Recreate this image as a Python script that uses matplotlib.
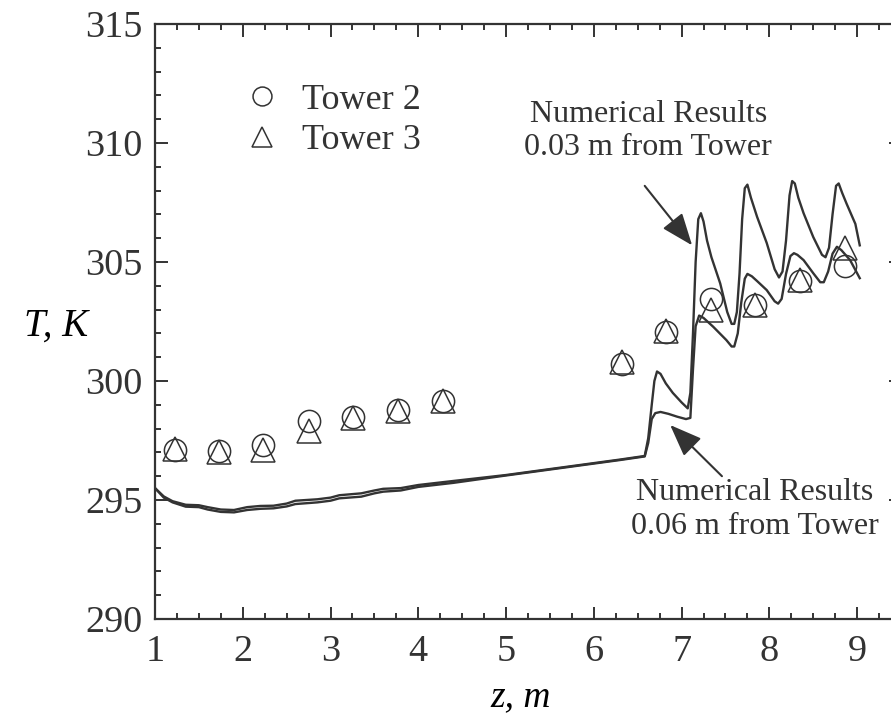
import numpy as np
from matplotlib import pyplot as plt
from matplotlib.ticker import MultipleLocator

# measured points (circles = tower 2, triangles = tower 3)
z_pts = [1.23, 1.73, 2.23, 2.75, 3.26, 3.77, 4.28, 6.32, 6.82, 7.33, 7.84, 8.35, 8.86]
T_tower2 = [297.1, 297.05, 297.3, 298.3, 298.5, 298.8, 299.15, 300.7, 302.05, 303.45, 303.2, 304.2, 304.85]
T_tower3 = [297.15, 297.0, 297.1, 297.9, 298.45, 298.75, 299.15, 300.8, 302.1, 303.0, 303.2, 304.25, 305.6]

# numerical results, 0.03 m from tower
z_03 = [1.0, 1.1, 1.2, 1.35, 1.5, 1.6, 1.75, 1.9, 2.05, 2.2, 2.35, 2.5, 2.6, 2.85, 3.0, 3.1,
        3.35, 3.5, 3.6, 3.8, 4.0, 4.4, 5.0, 5.5, 6.0, 6.3, 6.58, 6.62, 6.66, 6.69, 6.72, 6.76,
        6.82, 6.9, 7.0, 7.07, 7.1, 7.13, 7.16, 7.19, 7.22, 7.25, 7.29, 7.34, 7.44, 7.52, 7.57,
        7.6, 7.63, 7.66, 7.69, 7.72, 7.75, 7.79, 7.86, 7.97, 8.06, 8.11, 8.15, 8.19, 8.23,
        8.26, 8.29, 8.33, 8.39, 8.5, 8.6, 8.64, 8.68, 8.72, 8.76, 8.79, 8.83, 8.88, 8.98, 9.03]
T_03 = [295.5, 295.15, 294.95, 294.8, 294.78, 294.7, 294.6, 294.58, 294.7, 294.75, 294.76,
        294.85, 294.97, 295.03, 295.1, 295.2, 295.28, 295.4, 295.47, 295.5, 295.63, 295.8,
        296.05, 296.3, 296.55, 296.7, 296.85, 297.6, 299.0, 300.0, 300.4, 300.3, 299.9,
        299.5, 299.1, 298.85, 299.5, 302.0, 305.0, 306.8, 307.05, 306.7, 305.9, 305.2, 304.1,
        302.9, 302.4, 302.4, 302.9, 304.5, 306.8, 308.1, 308.25, 307.7, 306.9, 305.8, 304.7,
        304.35, 304.6, 305.9, 307.8, 308.4, 308.3, 307.7, 307.05, 306.05, 305.3, 305.2, 305.6,
        307.0, 308.2, 308.3, 307.9, 307.45, 306.6, 305.7]

# numerical results, 0.06 m from tower
z_06 = [1.0, 1.1, 1.2, 1.35, 1.5, 1.6, 1.75, 1.9, 2.05, 2.2, 2.35, 2.5, 2.6, 2.85, 3.0, 3.1,
        3.35, 3.5, 3.6, 3.8, 4.0, 4.4, 5.0, 5.5, 6.0, 6.3, 6.58, 6.62, 6.66, 6.7, 6.76, 6.85,
        6.95, 7.05, 7.1, 7.13, 7.16, 7.2, 7.25, 7.36, 7.51, 7.57, 7.6, 7.64, 7.68, 7.72, 7.75,
        7.8, 7.86, 7.97, 8.06, 8.1, 8.14, 8.19, 8.24, 8.28, 8.32, 8.39, 8.5, 8.58, 8.62, 8.67,
        8.72, 8.77, 8.82, 8.92, 9.03]
T_06 = [295.5, 295.1, 294.9, 294.72, 294.7, 294.6, 294.5, 294.48, 294.58, 294.63, 294.65,
        294.73, 294.83, 294.9, 294.97, 295.07, 295.14, 295.28, 295.35, 295.4, 295.55, 295.72,
        296.03, 296.28, 296.53, 296.68, 296.83, 297.4, 298.4, 298.65, 298.7, 298.62, 298.5,
        298.4, 298.45, 300.5, 302.3, 302.75, 302.65, 302.28, 301.72, 301.45, 301.45, 302.0,
        303.3, 304.3, 304.5, 304.4, 304.2, 303.82, 303.35, 303.25, 303.45, 304.5, 305.25,
        305.37, 305.3, 305.08, 304.53, 304.15, 304.15, 304.6, 305.35, 305.64, 305.5, 305.08,
        304.32]

plt.rcParams['font.family'] = ['Liberation Serif', 'DejaVu Serif']
ink = '#333333'

fig = plt.figure(figsize=(8.91, 7.17), dpi=100)
ax = fig.add_axes([155 / 891, 98 / 717, 746 / 891, 595 / 717])

ax.plot(z_03, T_03, color=ink, lw=1.7)
ax.plot(z_06, T_06, color=ink, lw=1.7)
ax.plot(z_pts, T_tower2, 'o', ms=16, mfc='none', mec=ink, mew=1.1, ls='none', label='Tower 2')
ax.plot(z_pts, T_tower3, '^', ms=17, mfc='none', mec=ink, mew=1.1, ls='none', label='Tower 3')

ax.set_xlim(1, 9.5)
ax.set_ylim(290, 315)
ax.xaxis.set_major_locator(MultipleLocator(1))
ax.xaxis.set_minor_locator(MultipleLocator(0.25))
ax.yaxis.set_major_locator(MultipleLocator(5))
ax.yaxis.set_minor_locator(MultipleLocator(1))
ax.tick_params(which='both', direction='in', top=True, right=True, colors=ink, width=1.4)
ax.tick_params(which='major', length=9, labelsize=27.5)
ax.tick_params(which='minor', length=4.5)
ax.tick_params(axis='x', which='major', pad=11)
ax.tick_params(axis='y', which='major', pad=9)
for sp in ax.spines.values():
    sp.set_color(ink)
    sp.set_linewidth(1.6)

ax.set_xlabel('z, m', fontsize=27, style='italic', va='center')
ax.xaxis.set_label_coords(0.49, -0.131)
ax.set_ylabel('T, K', fontsize=28, style='italic', rotation=0, ha='center', va='center')
ax.yaxis.set_label_coords(-0.133, 0.493)

leg = ax.legend(loc='upper left', bbox_to_anchor=(0.095, 0.93), frameon=False, fontsize=26,
                handlelength=1.0, handletextpad=0.6, labelspacing=0.2, markerscale=0.85,
                borderpad=0)
for t in leg.get_texts():
    t.set_color(ink)

arrow = dict(arrowstyle='-|>,head_length=0.9,head_width=0.35', color=ink, lw=1.5,
             mutation_scale=22, shrinkA=0, shrinkB=0)
ax.annotate('', xy=(7.12, 305.7), xytext=(6.58, 308.2), arrowprops=arrow)
ax.text(6.62, 310.5, 'Numerical Results\n0.03 m from Tower', fontsize=23, color=ink,
        ha='center', va='center', linespacing=1.2)
ax.annotate('', xy=(6.87, 298.15), xytext=(7.46, 296.0), arrowprops=arrow)
ax.text(7.83, 294.6, 'Numerical Results\n0.06 m from Tower', fontsize=23, color=ink,
        ha='center', va='center', linespacing=1.2)

fig.savefig('out.png', dpi=100)
